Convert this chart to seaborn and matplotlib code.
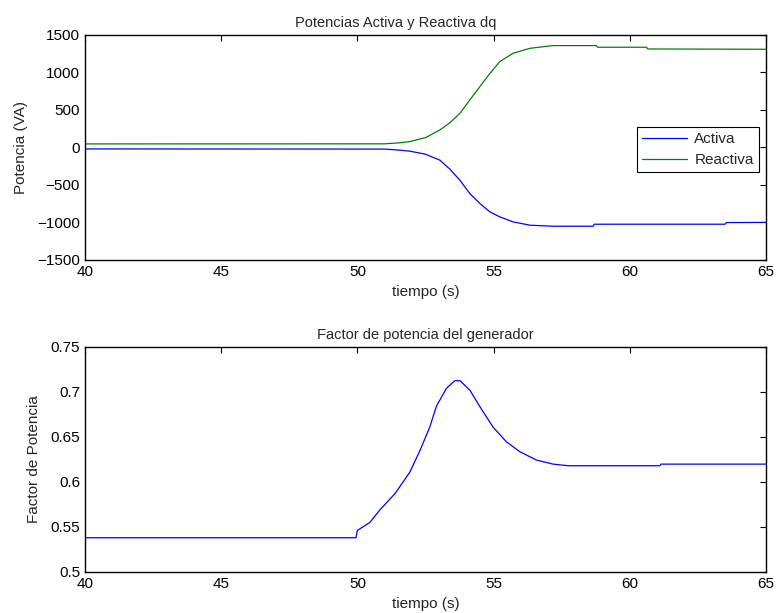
import matplotlib
matplotlib.use("Agg")
import matplotlib.pyplot as plt
import seaborn as sns
import numpy as np
import pandas as pd

# Top panel: active and reactive power (VA)
t_activa = [40.0, 51.0, 51.5, 51.93, 52.5, 53.03, 53.4, 53.77, 54.13, 54.5, 54.87, 55.23,
            55.72, 56.34, 57.19, 58.66, 58.7, 63.5, 63.55, 65.0]
activa = [-20, -22, -35, -50, -90, -170, -290, -440, -615, -748, -860, -926,
          -993, -1037, -1051, -1051, -1024, -1024, -1002, -1000]

t_reactiva = [40.0, 51.0, 51.5, 51.93, 52.5, 53.03, 53.4, 53.77, 54.13, 54.5, 54.87, 55.23,
              55.72, 56.34, 57.19, 58.78, 58.82, 60.62, 60.66, 65.0]
reactiva = [47, 48, 60, 78, 130, 233, 330, 456, 633, 811, 989, 1144,
            1256, 1322, 1358, 1358, 1336, 1336, 1313, 1309]

# Bottom panel: power factor
t_fp = [40.0, 49.95, 50.0, 50.2, 50.46, 50.83, 51.38, 51.93, 52.3, 52.66, 52.9, 53.27,
        53.58, 53.77, 54.13, 54.5, 54.98, 55.47, 55.97, 56.58, 57.19, 57.74, 61.1, 61.15, 65.0]
fp = [0.538, 0.538, 0.546, 0.550, 0.555, 0.569, 0.587, 0.611, 0.635, 0.661, 0.684, 0.704,
      0.7125, 0.7125, 0.702, 0.6836, 0.661, 0.6447, 0.6335, 0.6243, 0.6198, 0.618, 0.618, 0.6198, 0.6198]

x_ticks = [40, 45, 50, 55, 60, 65]
y1_ticks = [-1500, -1000, -500, 0, 500, 1000, 1500]
y2_ticks = [0.5, 0.55, 0.6, 0.65, 0.7, 0.75]
y2_labels = ["0.5", "0.55", "0.6", "0.65", "0.7", "0.75"]

sns.set_style("white")
plt.rcParams['font.family'] = ['Liberation Sans', 'DejaVu Sans']
plt.rcParams['font.size'] = 11

fig = plt.figure(figsize=(7.76, 6.13), dpi=100)
ax1 = fig.add_axes([0.1095, 0.576, 0.8775, 0.367])
ax2 = fig.add_axes([0.1095, 0.067, 0.8775, 0.367])

sns.lineplot(x=t_activa, y=activa, ax=ax1, color=(0, 0, 1), label="Activa",
             estimator=None, sort=False, linewidth=0.9)
sns.lineplot(x=t_reactiva, y=reactiva, ax=ax1, color=(0, 0.5, 0), label="Reactiva",
             estimator=None, sort=False, linewidth=0.9)
sns.lineplot(x=t_fp, y=fp, ax=ax2, color=(0, 0, 1), estimator=None, sort=False, linewidth=0.9)

for ax in (ax1, ax2):
    ax.set_xlim(40, 65)
    ax.set_xticks(x_ticks)
    ax.tick_params(direction='in', top=True, right=True, length=4, width=0.8,
                   labelsize=11, colors='black')
    ax.tick_params(axis='x', pad=4)
    ax.tick_params(axis='y', pad=3.5)
    for s in ax.spines.values():
        s.set_color('black')
        s.set_linewidth(1.0)
    ax.set_xlabel("tiempo (s)", fontsize=11, labelpad=4)

ax1.set_ylim(-1500, 1500)
ax1.set_yticks(y1_ticks)
ax1.set_yticklabels([str(v).replace("-", "\u2212") for v in y1_ticks])
ax1.set_ylabel("Potencia (VA)", fontsize=11, labelpad=7)
ax1.set_title("Potencias Activa y Reactiva dq", fontsize=10.5, pad=6, x=0.457)
leg = ax1.legend(loc='center right', fancybox=False, framealpha=1, edgecolor='black',
                 fontsize=11, borderpad=0.35, handlelength=2.95, handletextpad=0.45,
                 labelspacing=0.45, borderaxespad=0.45, bbox_to_anchor=(1.0, 0.49))
leg.get_frame().set_linewidth(0.8)

ax2.set_ylim(0.5, 0.75)
ax2.set_yticks(y2_ticks)
ax2.set_yticklabels(y2_labels)
ax2.set_ylabel("Factor de Potencia", fontsize=11, labelpad=7)
ax2.set_title("Factor de potencia del generador", fontsize=10.5, pad=6)

fig.savefig("out.png", dpi=100)
